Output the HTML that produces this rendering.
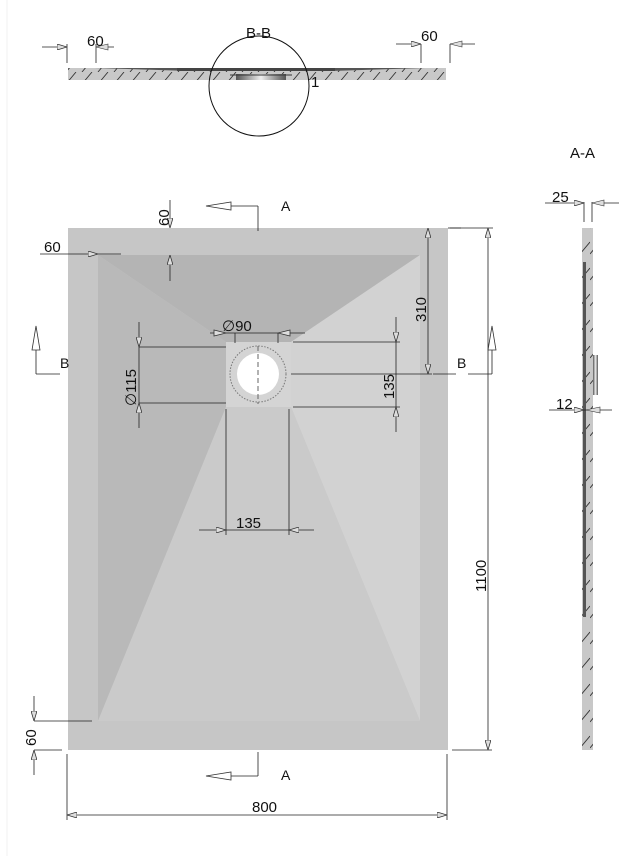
<!DOCTYPE html>
<html><head><meta charset="utf-8"><style>
html,body{margin:0;padding:0;background:#fff;}
svg{display:block}
text{font-family:"Liberation Sans",sans-serif;fill:#111;}
</style></head><body>
<svg width="623" height="856" viewBox="0 0 623 856" xmlns="http://www.w3.org/2000/svg">
<defs>
<marker id="ar" viewBox="0 0 10 6" refX="10" refY="3" markerWidth="10" markerHeight="6" orient="auto-start-reverse" markerUnits="userSpaceOnUse">
<path d="M0,0 L10,3 L0,6 Z" fill="#ddd" stroke="#333" stroke-width="0.8"/></marker>
<pattern id="hat" width="16" height="12" patternUnits="userSpaceOnUse">
<line x1="2" y1="12" x2="12" y2="0" stroke="#333" stroke-width="0.9"/></pattern>
<pattern id="hatv" width="10" height="26" patternUnits="userSpaceOnUse">
<line x1="0" y1="20" x2="10" y2="8" stroke="#333" stroke-width="0.9"/></pattern>
<linearGradient id="dr" x1="0" x2="1"><stop offset="0" stop-color="#555"/><stop offset="0.5" stop-color="#eee"/><stop offset="1" stop-color="#555"/></linearGradient>
</defs>
<line x1="7" y1="0" x2="7" y2="856" stroke="#f2f2f2"/>
<!-- Top section B-B -->
<rect x="68" y="68" width="378" height="12" fill="#c8c8c8"/>
<rect x="68" y="68" width="378" height="12" fill="url(#hat)"/>
<polygon points="95,68 425,68 330,71 190,71" fill="#555"/>
<rect x="177" y="68" width="158" height="3" fill="#444"/>
<rect x="236" y="74" width="50" height="6" fill="url(#dr)"/>
<line x1="230" y1="75" x2="292" y2="75" stroke="#333"/>
<ellipse cx="259" cy="86" rx="50" ry="50" fill="none" stroke="#111" stroke-width="1"/>
<text x="246" y="38" font-size="15">B-B</text>
<text x="311" y="87" font-size="15">1</text>
<line x1="67" y1="44" x2="67" y2="63" stroke="#222" stroke-width="0.8"/>
<line x1="96" y1="44" x2="96" y2="63" stroke="#222" stroke-width="0.8"/>
<line x1="42" y1="47" x2="67" y2="47" stroke="#222" stroke-width="0.8" marker-end="url(#ar)"/>
<line x1="96" y1="47" x2="114" y2="47" stroke="#222" stroke-width="0.8"/>
<polygon points="96,47 108,44 108,50" fill="#ddd" stroke="#333" stroke-width="0.6"/>
<text x="87" y="46" font-size="15">60</text>
<line x1="421" y1="44" x2="421" y2="63" stroke="#222" stroke-width="0.8"/>
<line x1="450" y1="44" x2="450" y2="63" stroke="#222" stroke-width="0.8"/>
<line x1="396" y1="44" x2="421" y2="44" stroke="#222" stroke-width="0.8" marker-end="url(#ar)"/>
<line x1="450" y1="44" x2="475" y2="44" stroke="#222" stroke-width="0.8"/>
<polygon points="450,44 462,41 462,47" fill="#ddd" stroke="#333" stroke-width="0.6"/>
<text x="421" y="41" font-size="15">60</text>
<!-- Plan -->
<rect x="68" y="228" width="380" height="522" fill="#c6c6c6"/>
<polygon points="98,255 420,255 291,342 226,342" fill="#b4b4b4"/>
<polygon points="98,255 226,342 226,407 98,721" fill="#b9b9b9"/>
<polygon points="420,255 291,342 291,407 420,721" fill="#d2d2d2"/>
<polygon points="98,721 226,407 291,407 420,721" fill="#cacaca"/>
<rect x="226" y="342" width="65" height="65" fill="#d4d4d4"/>
<circle cx="258" cy="374" r="28" fill="none" stroke="#777" stroke-dasharray="1.5,1.5"/>
<circle cx="258" cy="374" r="21" fill="#fff"/>
<line x1="258" y1="346" x2="258" y2="404" stroke="#666" stroke-dasharray="5,3"/>
<g stroke="#222" stroke-width="0.8" fill="none">
<line x1="258" y1="206" x2="258" y2="231"/>
<line x1="231" y1="206" x2="258" y2="206"/>
<line x1="258" y1="752" x2="258" y2="776"/>
<line x1="231" y1="776" x2="258" y2="776"/>
<line x1="36" y1="374" x2="60" y2="374"/>
<line x1="36" y1="350" x2="36" y2="374"/>
<line x1="433" y1="374" x2="456" y2="374"/>
<line x1="492" y1="350" x2="492" y2="374"/>
<line x1="468" y1="374" x2="492" y2="374"/>
<line x1="170" y1="200" x2="170" y2="228" marker-end="url(#ar)"/>
<line x1="170" y1="281" x2="170" y2="255" marker-end="url(#ar)"/>
<line x1="40" y1="254" x2="98" y2="254" marker-end="url(#ar)" />
<line x1="98" y1="254" x2="121" y2="254"/>
<line x1="448" y1="228" x2="461" y2="228"/>
<line x1="428" y1="228" x2="428" y2="374" marker-start="url(#ar)" marker-end="url(#ar)"/>
<line x1="291" y1="374" x2="432" y2="374"/>
<line x1="210" y1="333" x2="305" y2="333"/>
<line x1="235" y1="333" x2="235" y2="343" />
<line x1="278" y1="333" x2="278" y2="343" />
<line x1="139" y1="347" x2="226" y2="347"/>
<line x1="139" y1="403" x2="226" y2="403"/>
<line x1="139" y1="322" x2="139" y2="347" marker-end="url(#ar)"/>
<line x1="139" y1="428" x2="139" y2="403" marker-end="url(#ar)"/>
<line x1="139" y1="347" x2="139" y2="403"/>
<line x1="293" y1="342" x2="400" y2="342"/>
<line x1="293" y1="407" x2="400" y2="407"/>
<line x1="396" y1="317" x2="396" y2="342" marker-end="url(#ar)"/>
<line x1="396" y1="432" x2="396" y2="407" marker-end="url(#ar)"/>
<line x1="396" y1="342" x2="396" y2="407"/>
<line x1="226" y1="409" x2="226" y2="535"/>
<line x1="289" y1="409" x2="289" y2="535"/>
<line x1="199" y1="530" x2="226" y2="530" marker-end="url(#ar)"/>
<line x1="314" y1="530" x2="289" y2="530" marker-end="url(#ar)"/>
<line x1="226" y1="530" x2="289" y2="530"/>
<line x1="450" y1="228" x2="493" y2="228"/>
<line x1="452" y1="750" x2="492" y2="750"/>
<line x1="488" y1="228" x2="488" y2="750" marker-start="url(#ar)" marker-end="url(#ar)"/>
<line x1="34" y1="721" x2="92" y2="721"/>
<line x1="34" y1="750" x2="62" y2="750"/>
<line x1="34" y1="696" x2="34" y2="721" marker-end="url(#ar)"/>
<line x1="34" y1="775" x2="34" y2="750" marker-end="url(#ar)"/>
<line x1="67" y1="754" x2="67" y2="820"/>
<line x1="447" y1="754" x2="447" y2="820"/>
<line x1="67" y1="815" x2="447" y2="815" marker-start="url(#ar)" marker-end="url(#ar)"/>
</g>
<g fill="#fff" stroke="#333" stroke-width="0.8">
<polygon points="206,206 231,202 231,210"/>
<polygon points="206,776 231,772 231,780"/>
<polygon points="36,326 32,350 40,350"/>
<polygon points="492,326 488,350 496,350"/>
<polygon points="226,333 214,330 214,336" fill="#ddd"/>
<polygon points="278,333 290,330 290,336" fill="#ddd"/>
</g>
<text x="281" y="211" font-size="14">A</text>
<text x="281" y="780" font-size="14">A</text>
<text x="60" y="368" font-size="14">B</text>
<text x="457" y="368" font-size="14">B</text>
<text x="44" y="252" font-size="15">60</text>
<text transform="translate(169,226) rotate(-90)" font-size="15">60</text>
<text transform="translate(426,322) rotate(-90)" font-size="15">310</text>
<text x="222" y="331" font-size="15">∅90</text>
<text transform="translate(136,406) rotate(-90)" font-size="15">∅115</text>
<text transform="translate(394,399) rotate(-90)" font-size="15">135</text>
<text x="236" y="528" font-size="15">135</text>
<text transform="translate(486,592) rotate(-90)" font-size="15">1100</text>
<text transform="translate(36,746) rotate(-90)" font-size="15">60</text>
<text x="252" y="812" font-size="15">800</text>
<!-- A-A side -->
<text x="570" y="158" font-size="15">A-A</text>
<rect x="582" y="228" width="11" height="522" fill="#c8c8c8"/>
<rect x="582" y="228" width="11" height="522" fill="url(#hatv)"/>
<rect x="583" y="262" width="3" height="355" fill="#555"/>
<rect x="593" y="355" width="5" height="40" fill="url(#dr)"/>
<g stroke="#222" stroke-width="0.8">
<line x1="584" y1="202" x2="584" y2="222"/>
<line x1="592" y1="202" x2="592" y2="222"/>
<line x1="545" y1="203" x2="584" y2="203" marker-end="url(#ar)"/>
<line x1="592" y1="203" x2="619" y2="203"/>
<line x1="549" y1="410" x2="584" y2="410" marker-end="url(#ar)"/>
<line x1="584" y1="410" x2="612" y2="410"/>
</g>
<polygon points="592,203 604,200 604,206" fill="#ddd" stroke="#333" stroke-width="0.6"/>
<polygon points="586,410 600,407 600,413" fill="#ddd" stroke="#333" stroke-width="0.6"/>
<text x="552" y="202" font-size="15">25</text>
<text x="556" y="409" font-size="15">12</text>
</svg>
</body></html>
